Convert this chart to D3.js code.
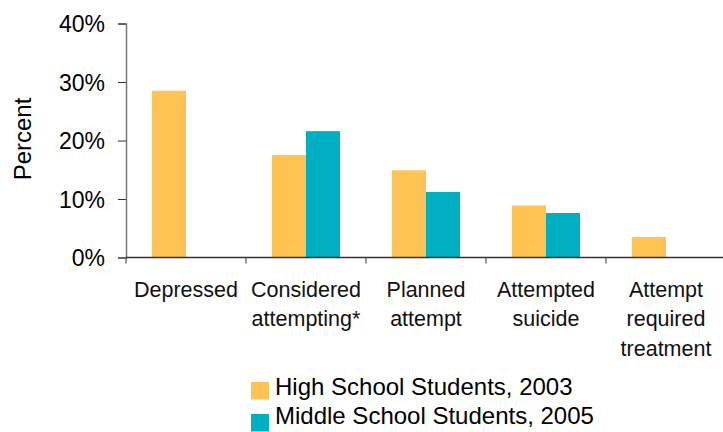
<!DOCTYPE html>
<html>
<head>
<meta charset="utf-8">
<script src="https://cdn.jsdelivr.net/npm/d3@7"></script>
<style>
  body { margin: 0; background: #fff; }
  svg { font-family: "Liberation Sans", Arial, sans-serif; }
</style>
</head>
<body>
<svg id="chart" width="723" height="432"></svg>
<script>
var categories = [
    ["Depressed"],
    ["Considered", "attempting*"],
    ["Planned", "attempt"],
    ["Attempted", "suicide"],
    ["Attempt", "required", "treatment"]];
var seriesNames = ["High School Students, 2003", "Middle School Students, 2005"];
var seriesColors = ["#FFC353", "#00AFC2"];
var highSchool = [28.5, 17.5, 14.9, 8.9, 3.5];
var middleSchool = [null, 21.6, 11.2, 7.6, null];
var yTicks = [0, 10, 20, 30, 40];

var svg = d3.select('#chart');
var plotLeft = 126, plotRight = 726, plotTop = 23.5, plotBottom = 257.5;
var keys = categories.map((c, i) => i);

let x = d3.scaleBand().domain(keys).range([plotLeft, plotRight]).padding(0);
let xs = d3.scaleBand().domain([0, 1]).range([0, x.bandwidth()]).paddingInner(0).paddingOuter(0.765);
let y = d3.scaleLinear().domain([0, 40]).range([plotBottom, plotTop]);

// y axis
let yAxis = svg.append('g')
    .attr('transform', `translate(${plotLeft},0)`)
    .call(d3.axisLeft(y).tickValues(yTicks).tickSize(8).tickPadding(13).tickFormat(d => d + '%'));
yAxis.selectAll('text').style('font-size', '23px').attr('fill', '#000').attr('dy', '0.36em');
yAxis.select('.domain').attr('stroke', '#777').attr('stroke-width', 1.5);
yAxis.selectAll('.tick line').attr('stroke', '#333');

// bars
let rows = [];
keys.forEach(i => {
    if (highSchool[i] != null) rows.push({cat: i, s: 0, v: highSchool[i]});
    if (middleSchool[i] != null) rows.push({cat: i, s: 1, v: middleSchool[i]});
});
svg.selectAll('rect.bar')
    .data(rows)
    .enter()
    .append('rect')
    .attr('class', 'bar')
    .attr('x', d => x(d.cat) + xs(d.s))
    .attr('width', xs.bandwidth())
    .attr('y', d => y(d.v))
    .attr('height', d => y(0) - y(d.v))
    .attr('fill', d => seriesColors[d.s]);

// x axis
svg.append('line')
    .attr('x1', plotLeft).attr('x2', plotRight)
    .attr('y1', y(0)).attr('y2', y(0))
    .attr('stroke', '#333').attr('stroke-width', 1.5);
svg.selectAll('line.xtick')
    .data(keys)
    .enter()
    .append('line')
    .attr('class', 'xtick')
    .attr('x1', d => x(d)).attr('x2', d => x(d))
    .attr('y1', y(0)).attr('y2', y(0) + 6)
    .attr('stroke', '#555').attr('stroke-width', 1.2);

let labels = svg.selectAll('text.xlabel')
    .data(keys)
    .enter()
    .append('text')
    .attr('class', 'xlabel')
    .attr('text-anchor', 'middle')
    .style('font-size', '21.5px')
    .attr('fill', '#111');
labels.each(function(d) {
    let t = d3.select(this);
    categories[d].forEach((line, j) => {
        t.append('tspan')
            .attr('x', x(d) + x.bandwidth() / 2)
            .attr('y', 297 + j * 29.3)
            .text(line);
    });
});

// y title
svg.append('text')
    .attr('transform', 'translate(31,139) rotate(-90)')
    .attr('text-anchor', 'middle')
    .style('font-size', '24px')
    .attr('fill', '#000')
    .text('Percent');

// legend
let legend = svg.selectAll('g.legend')
    .data(seriesNames)
    .enter()
    .append('g')
    .attr('class', 'legend')
    .attr('transform', (d, i) => `translate(251,${382 + i * 32})`);
legend.append('rect')
    .attr('width', 18).attr('height', 17.5)
    .attr('fill', (d, i) => seriesColors[i]);
legend.append('text')
    .attr('x', 24).attr('y', (d, i) => 13 - i * 3)
    .style('font-size', '24px')
    .attr('fill', '#000')
    .text(d => d);
</script>
</body>
</html>
